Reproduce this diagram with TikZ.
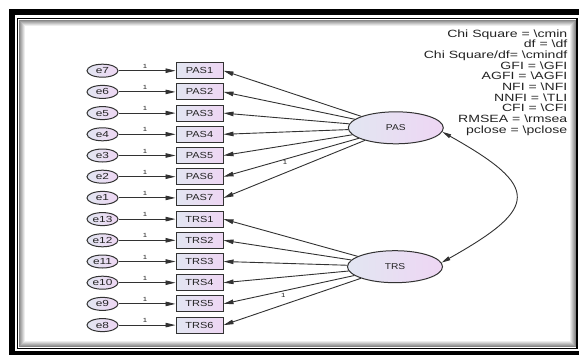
\documentclass[tikz,border=0pt]{standalone}
\usepackage{fontspec}
\setmainfont{Liberation Sans}
\usepackage{graphicx}
\usetikzlibrary{shapes.geometric,arrows.meta}

\definecolor{shadeL}{RGB}{226,230,242}
\definecolor{shadeR}{RGB}{238,214,243}
\definecolor{edge}{RGB}{50,50,50}
\definecolor{ink}{RGB}{35,35,35}

% horizontally widened text
\newcommand\wtext[2]{\scalebox{#1}[1]{#2}}

\tikzset{
  err/.style={ellipse, draw=edge, line width=1pt, left color=shadeL, right color=shadeR,
    minimum width=31pt, minimum height=13pt, inner sep=0pt, text=ink, font=\fontsize{8.8}{10}\selectfont},
  obs/.style={rectangle, draw=edge, line width=1pt, left color=shadeL, right color=shadeR,
    minimum width=47pt, minimum height=16pt, inner sep=0pt, text=ink, font=\fontsize{8.8}{10}\selectfont},
  lat/.style={ellipse, draw=edge, line width=1pt, left color=shadeL, right color=shadeR,
    minimum width=95pt, minimum height=32pt, inner sep=0pt, text=ink, font=\fontsize{8.5}{10}\selectfont},
  regr/.style={draw=edge, line width=0.9pt, -{Triangle[length=10pt,width=4.5pt]}},
  cov/.style={draw=edge, line width=0.9pt, {Triangle[length=9pt,width=4pt]}-{Triangle[length=9pt,width=4pt]}},
  one/.style={font=\fontsize{6}{7}\selectfont, inner sep=0pt, text=ink},
}

\begin{document}
\begin{tikzpicture}[x=1pt,y=-1pt]
\useasboundingbox (0,0) rectangle (579,356);

% double frame with inner shadow
\fill[black] (9,9) rectangle (579,355);
\fill[white] (15,15) rectangle (579,351);
\draw[black, line width=1.6pt] (17.5,18.5) rectangle (577,348.5);
\foreach \k in {1,...,6} {
  \pgfmathsetmacro\g{55-8*\k}
  \draw[black!\g, line width=1pt] (18.5+\k,19.5+\k) rectangle (576-\k,347.5-\k);
}

% indicators with their error terms
\foreach \i/\e/\v in {0/7/PAS1,1/6/PAS2,2/5/PAS3,3/4/PAS4,4/3/PAS5,5/2/PAS6,6/1/PAS7,
                      7/13/TRS1,8/12/TRS2,9/11/TRS3,10/10/TRS4,11/9/TRS5,12/8/TRS6} {
  \pgfmathsetmacro\yy{70.7+21.2*\i}
  \node[err] (e\e) at (102.5,\yy) {\wtext{1.35}{e\e}};
  \node[obs] (\v) at (199.5,\yy) {\wtext{1.25}{\v}};
  \draw[regr] (e\e) -- (\v);
  \node[one] (w\e) at (145,\yy-4.5) {\wtext{1.3}{1}};
}

% latent factors
\node[lat] (lPAS) at (395.8,127.8) {\wtext{1.2}{PAS}};
\node[lat] (lTRS) at (395,266.7) {\wtext{1.2}{TRS}};

% loadings
\foreach \v in {PAS1,PAS2,PAS3,PAS4,PAS5,PAS6,PAS7}
  \draw[regr] (lPAS) -- (\v.east);
\foreach \v in {TRS1,TRS2,TRS3,TRS4,TRS5,TRS6}
  \draw[regr] (lTRS) -- (\v.east);
\node[one] (fPAS) at (285,162) {\wtext{1.3}{1}};
\node[one] (fTRS) at (283.3,295) {\wtext{1.3}{1}};

% factor covariance
\draw[cov] (lPAS.-5) .. controls +(98,55) and +(98,-55) .. (lTRS.5);

% fit indices
\node[inner sep=0pt, anchor=north east, text=ink] (fit) at (567.5,29.5)
  {\wtext{1.34}{\fontsize{10.5}{10.2}\selectfont
   \begin{tabular}{@{}r@{}}
   Chi Square = \textbackslash cmin\\
   df = \textbackslash df\\
   Chi Square/df= \textbackslash cmindf\\
   GFI = \textbackslash GFI\\
   AGFI = \textbackslash AGFI\\
   NFI = \textbackslash NFI\\
   NNFI = \textbackslash TLI\\
   CFI = \textbackslash CFI\\
   RMSEA = \textbackslash rmsea\\
   pclose = \textbackslash pclose
   \end{tabular}}};
\end{tikzpicture}
\end{document}
